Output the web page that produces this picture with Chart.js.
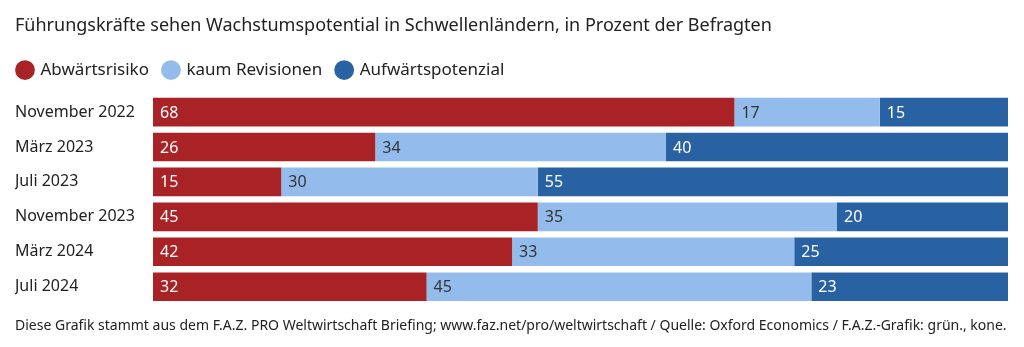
<!DOCTYPE html>
<html>
<head>
<meta charset="utf-8">
<script src="https://cdn.jsdelivr.net/npm/chart.js@4"></script>
<style>
  html, body { margin: 0; padding: 0; background: #fff; }
  #wrap { width: 1024px; height: 347px; }
</style>
</head>
<body>
<div id="wrap"><canvas id="chart"></canvas></div>
<script>
const periods = ['November 2022', 'März 2023', 'Juli 2023', 'November 2023', 'März 2024', 'Juli 2024'];
const abwaerts = [68, 26, 15, 45, 42, 32];
const kaum = [17, 34, 30, 35, 33, 45];
const aufwaerts = [15, 40, 55, 20, 25, 23];

const FONT = "'Noto Sans', sans-serif";
const LEGEND_GAP = 15;

// Werte links in jedes Segment schreiben
const segmentLabels = {
  id: 'segmentLabels',
  afterDatasetsDraw(chart) {
    const ctx = chart.ctx;
    ctx.save();
    ctx.font = '16px ' + FONT;
    ctx.textBaseline = 'middle';
    ctx.textAlign = 'left';
    chart.data.datasets.forEach((ds, i) => {
      chart.getDatasetMeta(i).data.forEach((bar, j) => {
        const left = Math.min(bar.x, bar.base);
        ctx.fillStyle = ds.labelColor;
        ctx.fillText(ds.data[j], left + 7, bar.y + 1);
      });
    });
    ctx.restore();
  }
};

// Legende bündig mit dem Titel starten lassen und etwas mehr Luft darunter
const legendShift = {
  id: 'legendShift',
  beforeLayout(chart) {
    const lg = chart.legend;
    if (lg && !lg._extraSpace) {
      const fit = lg.fit;
      lg.fit = function () {
        fit.call(this);
        this.height += 6;
      };
      lg._extraSpace = true;
    }
  },
  afterLayout(chart) {
    chart.legend.left = 18 - LEGEND_GAP;
  }
};

new Chart(document.getElementById('chart'), {
  type: 'bar',
  data: {
    labels: periods,
    datasets: [
      { label: 'Abwärtsrisiko', data: abwaerts, backgroundColor: '#a82226', labelColor: '#fff' },
      { label: 'kaum Revisionen', data: kaum, backgroundColor: '#93bcec', labelColor: '#333' },
      { label: 'Aufwärtspotenzial', data: aufwaerts, backgroundColor: '#2962a3', labelColor: '#fff' }
    ]
  },
  options: {
    indexAxis: 'y',
    responsive: true,
    maintainAspectRatio: false,
    animation: false,
    datasets: { bar: { categoryPercentage: 0.82, barPercentage: 1 } },
    layout: { padding: { left: 15, right: 16, top: 15, bottom: 13 } },
    scales: {
      x: { stacked: true, min: 0, max: 100, display: false },
      y: {
        stacked: true,
        grid: { display: false },
        border: { display: false },
        afterFit(scale) { scale.width = 138; },
        ticks: {
          crossAlign: 'far',
          color: '#222',
          font: { family: FONT, size: 16 }
        }
      }
    },
    plugins: {
      title: {
        display: true,
        text: 'Führungskräfte sehen Wachstumspotential in Schwellenländern, in Prozent der Befragten',
        align: 'start',
        color: '#222',
        font: { family: FONT, size: 18, weight: 'normal' },
        padding: { top: 0, bottom: 10 }
      },
      subtitle: {
        display: true,
        position: 'bottom',
        text: 'Diese Grafik stammt aus dem F.A.Z. PRO Weltwirtschaft Briefing; www.faz.net/pro/weltwirtschaft / Quelle: Oxford Economics / F.A.Z.-Grafik: grün., kone.',
        align: 'start',
        color: '#222',
        font: { family: FONT, size: 14 },
        padding: { top: 13, bottom: 0 }
      },
      legend: {
        align: 'start',
        labels: {
          usePointStyle: true,
          pointStyle: 'circle',
          boxWidth: 14,
          boxHeight: 14,
          padding: LEGEND_GAP,
          color: '#222',
          font: { family: FONT, size: 17 }
        }
      },
      tooltip: { enabled: false }
    }
  },
  plugins: [segmentLabels, legendShift]
});
</script>
</body>
</html>
